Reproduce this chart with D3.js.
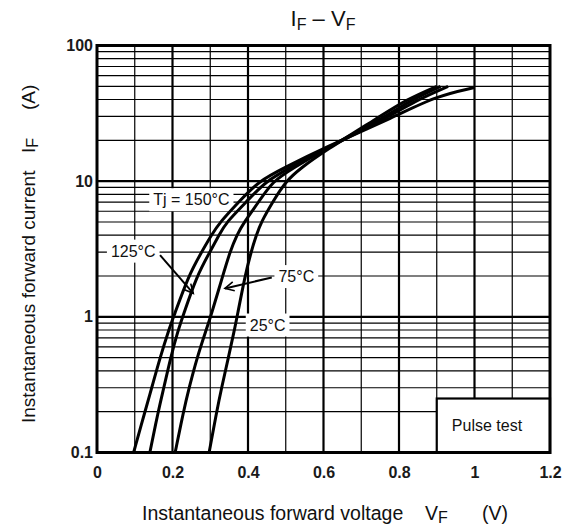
<!DOCTYPE html>
<html>
<head>
<meta charset="utf-8">
<script src="https://cdn.jsdelivr.net/npm/d3@7"></script>
<style>
  html, body { margin: 0; padding: 0; background: #fff; }
  svg { display: block; font-family: "Liberation Sans", Arial, sans-serif; }
</style>
</head>
<body>
<svg id="chart" width="562" height="526"></svg>
<script>
// IF - VF characteristic
const xTicks = [0, 0.2, 0.4, 0.6, 0.8, 1, 1.2];
const xTickLabels = ["0", "0.2", "0.4", "0.6", "0.8", "1", "1.2"];
const yTicks = [0.1, 1, 10, 100];
const yTickLabels = ["0.1", "1", "10", "100"];

// grid lines
const xMinorGrid = [0.1, 0.3, 0.5, 0.7, 0.9, 1.1];
const xMajorGrid = [0.2, 0.4, 0.6, 0.8, 1.0];
const yDecades = [0.1, 1, 10];
const yMinorSteps = [2, 3, 4, 5, 6, 7, 8, 9];

// [VF (V), IF (A)]
const curve150 = [[0.097, 0.1], [0.127, 0.2], [0.145, 0.3], [0.167, 0.5], [0.19, 0.8], [0.203, 1],
  [0.242, 2], [0.277, 3], [0.303, 4], [0.326, 5], [0.375, 7], [0.428, 10], [0.495, 12.5], [0.6, 17.5],
  [0.79, 30], [0.9, 42.5], [1.0, 49]];
const curve125 = [[0.14, 0.1], [0.162, 0.2], [0.177, 0.3], [0.195, 0.5], [0.215, 0.8], [0.227, 1],
  [0.264, 2], [0.299, 3], [0.323, 4], [0.343, 5], [0.395, 7], [0.447, 10], [0.51, 12.5], [0.6, 17],
  [0.775, 30], [0.85, 40], [0.93, 50]];
const curve75 = [[0.207, 0.1], [0.229, 0.2], [0.244, 0.3], [0.265, 0.5], [0.289, 0.8], [0.301, 1],
  [0.333, 2], [0.352, 3], [0.37, 4], [0.39, 5], [0.428, 7], [0.465, 10], [0.52, 12.5], [0.6, 17],
  [0.765, 30], [0.835, 40], [0.91, 50]];
const curve25 = [[0.297, 0.1], [0.317, 0.2], [0.33, 0.3], [0.348, 0.5], [0.364, 0.8], [0.371, 1],
  [0.392, 2], [0.408, 3], [0.422, 4], [0.435, 5], [0.465, 7], [0.5, 10], [0.54, 12.5], [0.6, 16.5],
  [0.75, 30], [0.82, 40], [0.9, 50]];

const curves = [curve150, curve125, curve75, curve25];

// temperature labels, centred at [VF, IF]
const tempLabels = ["Tj = 150°C", "125°C", "75°C", "25°C"];
const tempLabelPos = [[0.25, 7.3], [0.096, 3.05], [0.528, 1.98], [0.452, 0.87]];
// leader arrows [from, to]
const leaders = [[[0.167, 2.85], [0.255, 1.49]], [[0.463, 1.95], [0.339, 1.62]]];

// "Pulse test" box corners [VF, IF]
const pulseBox = [[0.9, 0.25], [1.2, 0.1]];

const svg = d3.select('#chart');
const margin = { top: 45.5, right: 12, bottom: 73.5, left: 97 };
const width = 562 - margin.left - margin.right;
const height = 526 - margin.top - margin.bottom;

const x = d3.scaleLinear().domain([0, 1.2]).range([0, width]);
const y = d3.scaleLog().domain([0.1, 100]).range([height, 0]);

const g = svg.append('g').attr('transform', `translate(${margin.left},${margin.top})`);

// arrow head
svg.append('defs').append('marker')
  .attr('id', 'arrow')
  .attr('markerUnits', 'userSpaceOnUse')
  .attr('viewBox', '-10 -6 12 12')
  .attr('refX', 0).attr('refY', 0)
  .attr('markerWidth', 12).attr('markerHeight', 12)
  .attr('orient', 'auto')
  .append('path')
  .attr('d', 'M-9,-4.5L0,0L-9,4.5')
  .attr('fill', 'none')
  .attr('stroke', '#000')
  .attr('stroke-width', 1.6);

// grid
const grid = g.append('g').attr('class', 'grid').attr('stroke', '#000');

const yMinor = yDecades.flatMap(d => yMinorSteps.map(m => d * m));
grid.selectAll('line.yminor')
  .data(yMinor)
  .join('line')
  .attr('class', 'yminor')
  .attr('x1', 0).attr('x2', width)
  .attr('y1', d => y(d)).attr('y2', d => y(d))
  .attr('stroke-width', 1.2);

grid.selectAll('line.ymajor')
  .data([1, 10])
  .join('line')
  .attr('class', 'ymajor')
  .attr('x1', 0).attr('x2', width)
  .attr('y1', d => y(d)).attr('y2', d => y(d))
  .attr('stroke-width', 2.2);

grid.selectAll('line.xminor')
  .data(xMinorGrid)
  .join('line')
  .attr('class', 'xminor')
  .attr('x1', d => x(d)).attr('x2', d => x(d))
  .attr('y1', 0).attr('y2', height)
  .attr('stroke-width', 1.2);

grid.selectAll('line.xmajor')
  .data(xMajorGrid)
  .join('line')
  .attr('class', 'xmajor')
  .attr('x1', d => x(d)).attr('x2', d => x(d))
  .attr('y1', 0).attr('y2', height)
  .attr('stroke-width', 2.2);

// temperature labels with white backing so the grid breaks around them
const labels = g.append('g').attr('class', 'labels');
const labelText = labels.selectAll('text')
  .data(tempLabels)
  .join('text')
  .attr('x', (d, i) => x(tempLabelPos[i][0]))
  .attr('y', (d, i) => y(tempLabelPos[i][1]))
  .attr('text-anchor', 'middle')
  .attr('dominant-baseline', 'central')
  .attr('font-size', 16)
  .attr('fill', '#111')
  .text(d => d);

labelText.each(function () {
  const b = this.getBBox();
  labels.insert('rect', 'text')
    .attr('x', b.x - 4).attr('y', b.y - 3)
    .attr('width', b.width + 8).attr('height', b.height + 6)
    .attr('fill', '#fff');
});

// leader arrows
g.append('g').selectAll('line')
  .data(leaders)
  .join('line')
  .attr('x1', d => x(d[0][0])).attr('y1', d => y(d[0][1]))
  .attr('x2', d => x(d[1][0])).attr('y2', d => y(d[1][1]))
  .attr('stroke', '#000')
  .attr('stroke-width', 2)
  .attr('marker-end', 'url(#arrow)');

// curves
const line = d3.line()
  .x(d => x(d[0]))
  .y(d => y(d[1]))
  .curve(d3.curveBasis);

g.append('g').selectAll('path')
  .data(curves)
  .join('path')
  .attr('d', line)
  .attr('fill', 'none')
  .attr('stroke', '#000')
  .attr('stroke-width', 3);

// pulse test box
g.append('rect')
  .attr('x', x(pulseBox[0][0]))
  .attr('y', y(pulseBox[0][1]))
  .attr('width', x(pulseBox[1][0]) - x(pulseBox[0][0]))
  .attr('height', y(pulseBox[1][1]) - y(pulseBox[0][1]))
  .attr('fill', '#fff')
  .attr('stroke', '#000')
  .attr('stroke-width', 2.2);

g.append('text')
  .attr('x', x(1.033))
  .attr('y', y(0.158))
  .attr('text-anchor', 'middle')
  .attr('dominant-baseline', 'central')
  .attr('font-size', 16)
  .attr('fill', '#111')
  .text('Pulse test');

// frame
g.append('rect')
  .attr('width', width).attr('height', height)
  .attr('fill', 'none')
  .attr('stroke', '#000')
  .attr('stroke-width', 3);

// axes (labels only)
const xAxis = g.append('g')
  .attr('transform', `translate(0,${height})`)
  .call(d3.axisBottom(x).tickValues(xTicks).tickFormat((d, i) => xTickLabels[i]).tickSize(0).tickPadding(14));
const yAxis = g.append('g')
  .call(d3.axisLeft(y).tickValues(yTicks).tickFormat((d, i) => yTickLabels[i]).tickSize(0).tickPadding(4));

[xAxis, yAxis].forEach(a => {
  a.select('.domain').remove();
  a.selectAll('text')
    .attr('font-family', '"Liberation Sans", Arial, sans-serif')
    .attr('font-size', 16)
    .attr('font-weight', 'bold')
    .attr('fill', '#1a1a1a');
});

// title
const title = svg.append('text')
  .attr('x', 323)
  .attr('y', 26)
  .attr('text-anchor', 'middle')
  .attr('font-size', 22)
  .attr('fill', '#111');
title.append('tspan').text('I');
title.append('tspan').attr('font-size', 16).attr('dy', 4).text('F');
title.append('tspan').attr('dy', -4).text(' \u2013 V');
title.append('tspan').attr('font-size', 16).attr('dy', 4).text('F');

// x axis title
const xTitle = svg.append('text')
  .attr('x', 142)
  .attr('y', 520)
  .attr('font-size', 19.5)
  .attr('fill', '#111');
xTitle.append('tspan').text('Instantaneous forward voltage');
xTitle.append('tspan').attr('x', 425).text('V');
xTitle.append('tspan').attr('font-size', 16).attr('dy', 3).text('F');
xTitle.append('tspan').attr('x', 482).attr('dy', -3).text('(V)');

// y axis title
const yTitle = svg.append('text')
  .attr('transform', 'translate(35,423) rotate(-90)')
  .attr('font-size', 19)
  .attr('fill', '#111');
yTitle.append('tspan').attr('x', 0).text('Instantaneous forward current');
yTitle.append('tspan').attr('x', 270).text('I');
yTitle.append('tspan').attr('font-size', 16).attr('dy', 3).text('F');
yTitle.append('tspan').attr('x', 313).attr('dy', -3).text('(A)');
</script>
</body>
</html>
